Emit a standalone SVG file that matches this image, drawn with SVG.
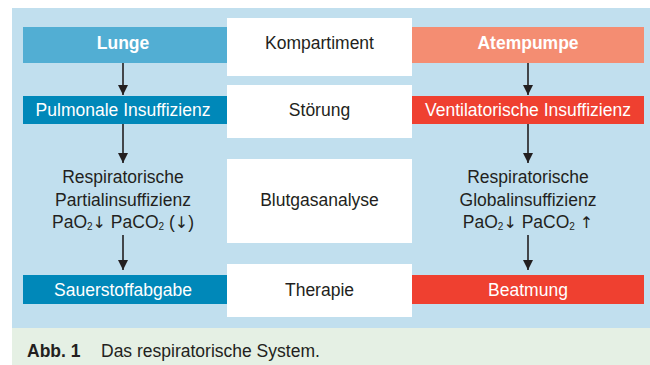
<svg xmlns="http://www.w3.org/2000/svg" width="650" height="365" viewBox="0 0 650 365">
<defs>
<style>
text{font-family:"Liberation Sans","Open Sans",Arial,sans-serif;font-size:17.5px;text-anchor:middle;fill:#231f20}
.w{fill:#ffffff}
.b{font-weight:bold}
.sub{font-size:10px;baseline-shift:-2px}
.ar{font-family:"DejaVu Sans",sans-serif;font-size:16px}
.conn{stroke:#231f20;stroke-width:1.6;fill:none;marker-end:url(#ah)}
</style>
<marker id="ah" viewBox="0 0 10 10" refX="10" refY="5" markerWidth="10" markerHeight="10" markerUnits="userSpaceOnUse" orient="auto">
<path d="M0,0 L10,5 L0,10 z" fill="#231f20"/>
</marker>
</defs>
<rect x="12" y="8" width="638" height="320" fill="#c1dfee"/>
<rect x="12" y="328" width="638" height="37" fill="#e5f0e4"/>
<g id="lunge"><rect x="23" y="27" width="204" height="36" fill="#52aed3"/><text x="123" y="49" class="w b">Lunge</text></g>
<g id="kompartiment"><rect x="227" y="18" width="185" height="58" fill="#ffffff"/><text x="319.5" y="49">Kompartiment</text></g>
<g id="atempumpe"><rect x="412" y="27" width="232" height="36" fill="#f48d72"/><text x="528" y="49" class="w b">Atempumpe</text></g>
<g id="pulmonale"><rect x="23" y="96" width="204" height="28" fill="#0088b9"/><text x="123" y="116" class="w">Pulmonale Insuffizienz</text></g>
<g id="stoerung"><rect x="227" y="85" width="185" height="53" fill="#ffffff"/><text x="319.5" y="116">Störung</text></g>
<g id="ventilatorische"><rect x="412" y="96" width="232" height="28" fill="#ef4030"/><text x="528" y="116" class="w">Ventilatorische Insuffizienz</text></g>
<g id="partial"><text x="123" y="183">Respiratorische</text><text x="123" y="206">Partialinsuffizienz</text><text x="123" y="228">PaO<tspan class="sub">2</tspan><tspan class="ar">↓</tspan> PaCO<tspan class="sub">2</tspan> (<tspan class="ar">↓</tspan>)</text></g>
<g id="blutgas"><rect x="227" y="159" width="185" height="84" fill="#ffffff"/><text x="319.5" y="206">Blutgasanalyse</text></g>
<g id="global"><text x="528" y="183">Respiratorische</text><text x="528" y="206">Globalinsuffizienz</text><text x="528" y="228">PaO<tspan class="sub">2</tspan><tspan class="ar">↓</tspan> PaCO<tspan class="sub">2</tspan> <tspan class="ar">↑</tspan></text></g>
<g id="sauerstoff"><rect x="23" y="275" width="204" height="29" fill="#0088b9"/><text x="123" y="296" class="w">Sauerstoffabgabe</text></g>
<g id="therapie"><rect x="227" y="264" width="185" height="53" fill="#ffffff"/><text x="319.5" y="296">Therapie</text></g>
<g id="beatmung"><rect x="412" y="275" width="232" height="29" fill="#ef4030"/><text x="528" y="296" class="w">Beatmung</text></g>
<g id="connectors">
<line class="conn" x1="123" y1="63" x2="123" y2="95"/>
<line class="conn" x1="123" y1="124" x2="123" y2="163"/>
<line class="conn" x1="123" y1="235" x2="123" y2="270"/>
<line class="conn" x1="528" y1="63" x2="528" y2="95"/>
<line class="conn" x1="528" y1="124" x2="528" y2="163"/>
<line class="conn" x1="528" y1="235" x2="528" y2="270"/>
</g>
<g id="caption"><text x="27" y="357" class="b" style="text-anchor:start">Abb. 1</text><text x="101" y="357" style="text-anchor:start">Das respiratorische System.</text></g>
</svg>
